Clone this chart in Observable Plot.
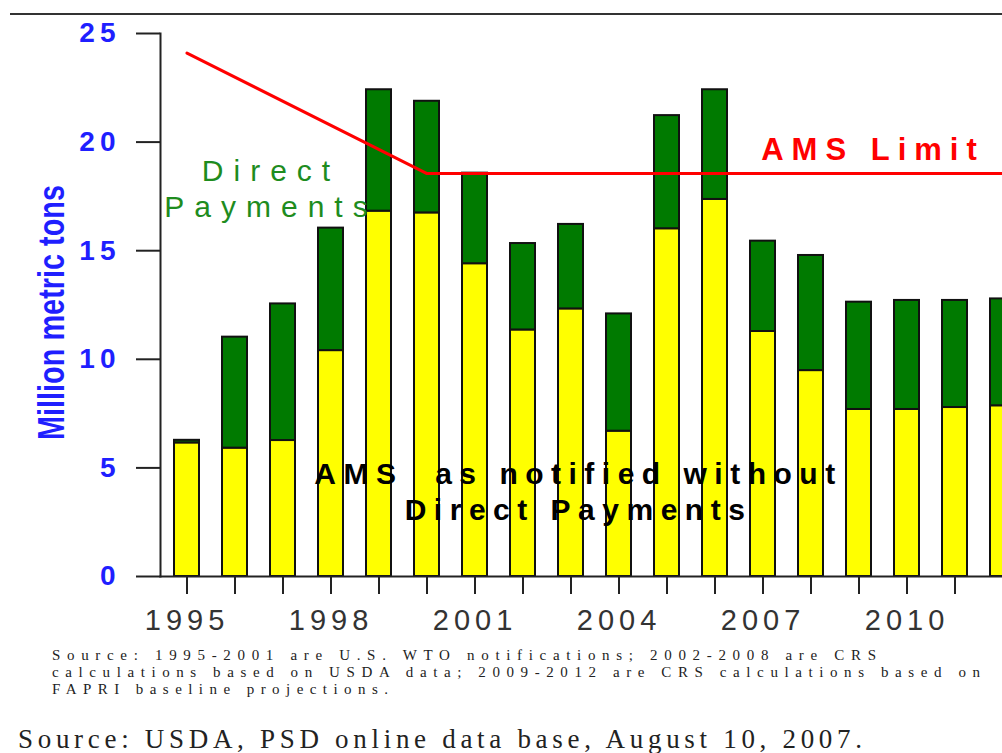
<!DOCTYPE html>
<html><head><meta charset="utf-8">
<script src="https://cdn.jsdelivr.net/npm/d3@7"></script>
<script src="https://cdn.jsdelivr.net/npm/@observablehq/plot@0.6"></script>
<style>
html,body{margin:0;padding:0;background:#fff;}
#wrap{position:relative;width:1002px;height:753px;overflow:hidden;background:#fff;}
#chart{position:absolute;left:0;top:0;}
#topline{position:absolute;left:10px;right:0;top:13px;border-top:2px solid #333;}
#cap{position:absolute;left:0;top:640px;}
g[aria-label="y-axis tick label"] text{fill:#1f1fff;font-weight:bold;letter-spacing:5px;}
g[aria-label="x-axis tick label"] text{fill:#333;letter-spacing:5px;}
</style></head>
<body><div id="wrap"><div id="chart"></div><div id="topline"></div><svg id="cap" width="1002" height="113"></svg></div>
<script>
const years = [1995,1996,1997,1998,1999,2000,2001,2002,2003,2004,2005,2006,2007,2008,2009,2010,2011,2012];
const amsWithoutDP = [6.15,5.91,6.26,10.40,16.82,16.74,14.40,11.35,12.32,6.69,16.01,17.36,11.28,9.48,7.69,7.69,7.78,7.86];
const directPayments = [0.12,5.11,6.29,5.64,5.59,5.14,4.17,3.98,3.89,5.40,5.21,5.05,4.16,5.30,4.94,5.02,4.93,4.92];
const limitYears = [1995,2000,2012];
const limitValues = [24.1,18.55,18.55];
const yTicks = [0,5,10,15,20,25];
const xLabelYears = [1995,1998,2001,2004,2007,2010];
const seriesNames = ["AMS as notified without Direct Payments","Direct Payments"];
const seriesColors = ["#ffff00","#007a00"];
const captionLines = [
  "Source: 1995-2001 are U.S. WTO notifications; 2002-2008 are CRS",
  "calculations based on USDA data; 2009-2012 are CRS calculations based on",
  "FAPRI baseline projections."
];
const footer = "Source: USDA, PSD online data base, August 10, 2007.";

const rows = years.flatMap((yr,i)=>[
  {year:yr, series:seriesNames[0], value:amsWithoutDP[i]},
  {year:yr, series:seriesNames[1], value:directPayments[i]}
]);
const limitRows = limitYears.map((yr,i)=>({year:yr, limit:limitValues[i]}));

const plot = Plot.plot({
  width:1002, height:640,
  marginTop:33, marginBottom:64, marginLeft:160, marginRight:0,
  style:{fontFamily:"'Liberation Sans', Arial, sans-serif", background:"transparent"},
  x:{type:"band", domain:years, range:[160,1029.4], paddingInner:0.47, paddingOuter:0.209, label:null},
  y:{domain:[0,25], label:null},
  color:{domain:seriesNames, range:seriesColors},
  marks:[
    Plot.barY(rows,{x:"year", y:"value", fill:"series", stroke:"#111", strokeWidth:2}),
    Plot.line(limitRows,{x:"year", y:"limit", stroke:"#ff0000", strokeWidth:3}),
    Plot.frame({anchor:"left", stroke:"#222", strokeWidth:2}),
    Plot.frame({anchor:"bottom", stroke:"#222", strokeWidth:2}),
    Plot.axisY({ticks:yTicks, tickSize:24, tickPadding:16, fontSize:28, stroke:"#222", strokeWidth:2, label:null}),
    Plot.axisX({tickSize:18, tickPadding:15, fontSize:29, stroke:"#222", strokeWidth:2, label:null,
      tickFormat:d => xLabelYears.includes(d) ? String(d) : ""}),
    Plot.text([{year:1997, v:17.93, t:"Direct\nPayments"}],{x:"year", y:"v", text:"t", dx:-12,
      fill:"#1e8c1e", fontSize:30, lineHeight:1.2, lineAnchor:"middle", textAnchor:"middle"}),
    Plot.text([{year:2009, v:19.64, t:"AMS Limit"}],{x:"year", y:"v", text:"t", dx:14,
      fill:"#ff0000", fontSize:31, fontWeight:"bold", lineAnchor:"middle", textAnchor:"middle"}),
    Plot.text([{year:2003, v:3.975, t:"AMS  as notified without\nDirect Payments"}],{x:"year", y:"v", text:"t", dx:7.5,
      fill:"#000", fontSize:30, fontWeight:"bold", lineHeight:1.2, lineAnchor:"middle", textAnchor:"middle"}),
    Plot.text(["Million metric tons"],{frameAnchor:"left", text:d=>d, rotate:-90, dx:-108, dy:7.5, textAnchor:"middle",
      fill:"#1f1fff", fontSize:36, fontWeight:"bold", fontFamily:"'Liberation Sans', Arial, sans-serif"})
  ]
});
document.getElementById("chart").appendChild(plot);
const texts = d3.select(plot).selectAll("g[aria-label='text']");
texts.each(function(_,i){
  const ls = [10,8,7.5,0][i];
  d3.select(this).style("letter-spacing", ls + "px");
  if (i === 3) d3.select(this).selectAll("text").attr("textLength", 255).attr("lengthAdjust", "spacingAndGlyphs");
});

const cap = d3.select("#cap");
const capY = [20, 37, 54];
const capLen = [824, 928, 336];
captionLines.forEach((t,i)=>{
  cap.append("text").attr("x",52).attr("y",capY[i]).attr("textLength",capLen[i]).attr("lengthAdjust","spacing")
    .attr("font-family","'Liberation Serif', 'Times New Roman', serif").attr("font-size",15).attr("fill","#222").text(t);
});
cap.append("text").attr("x",18).attr("y",108).attr("textLength",844).attr("lengthAdjust","spacing")
  .attr("font-family","'Liberation Serif', 'Times New Roman', serif").attr("font-size",27).attr("fill","#222").text(footer);
</script>
</body></html>
